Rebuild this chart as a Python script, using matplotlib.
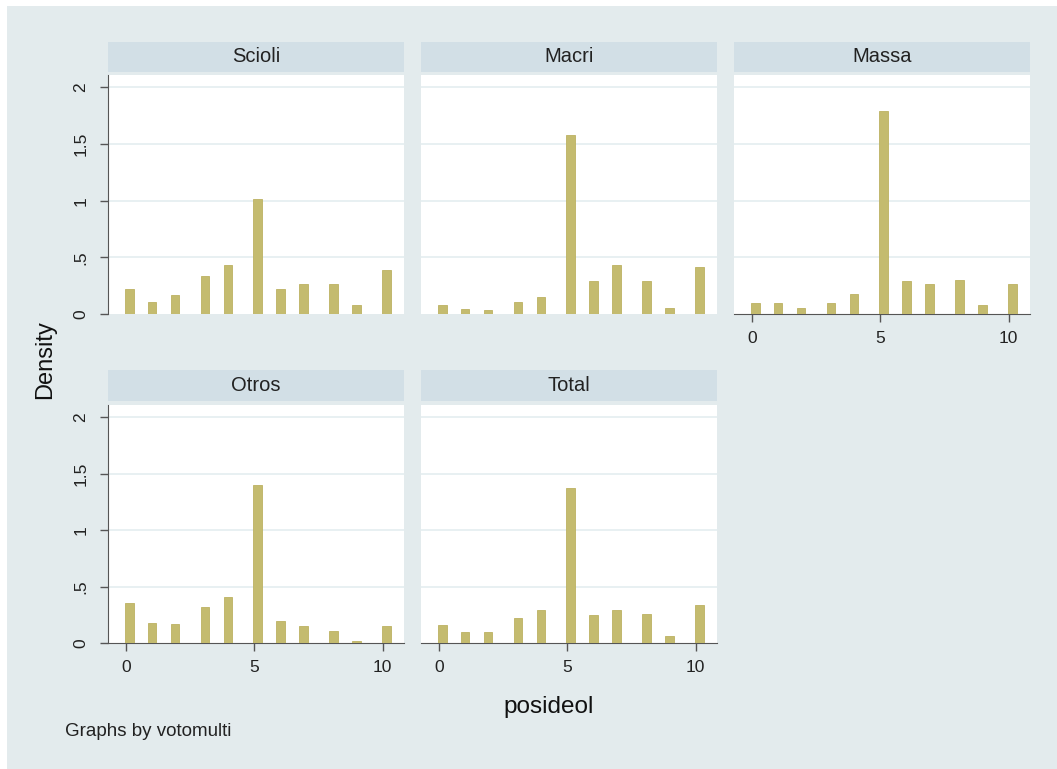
"""
Stata-style histogram panels of posideol by votomulti, redrawn in matplotlib
"""
import matplotlib.pyplot as plt
from matplotlib.patches import Rectangle

plt.rcParams["font.family"] = ["Liberation Sans", "DejaVu Sans"]

# Bin centres of the histogram bars (posideol)
bin_centres = [0.15, 1.02, 1.92, 3.08, 3.98, 5.14, 6.01, 6.92, 8.08, 8.98, 10.16]

# Density per panel
scioli = [0.218, 0.106, 0.168, 0.338, 0.435, 1.018, 0.218, 0.265, 0.262, 0.079, 0.391]
macri = [0.076, 0.047, 0.032, 0.103, 0.147, 1.582, 0.288, 0.429, 0.288, 0.056, 0.412]
massa = [0.097, 0.097, 0.053, 0.097, 0.174, 1.791, 0.288, 0.262, 0.297, 0.076, 0.262]
otros = [0.353, 0.179, 0.171, 0.315, 0.406, 1.400, 0.194, 0.147, 0.103, 0.020, 0.147]
total = [0.159, 0.094, 0.100, 0.221, 0.291, 1.376, 0.244, 0.291, 0.256, 0.059, 0.341]

panel_names = ["Scioli", "Macri", "Massa", "Otros", "Total"]
panel_values = [scioli, macri, massa, otros, total]

y_ticks = [0, 0.5, 1, 1.5, 2]
y_tick_labels = ["0", ".5", "1", "1.5", "2"]
x_ticks = [0, 5, 10]

BG = "#e3ebed"
STRIP = "#d2dfe6"
BAR = "#c4bb6f"
GRID = "#e8f0f2"
AXIS = "#555555"

W, H = 1057, 769
fig = plt.figure(figsize=(W / 100, H / 100), dpi=100)
fig.patch.set_facecolor("white")
fig.add_artist(Rectangle((7 / W, 0), 1, (H - 6) / H, transform=fig.transFigure,
                         facecolor=BG, edgecolor="none", zorder=-10))


def px_axes(left, top, right, bottom):
    """Adds an axes given in pixel coordinates (origin top-left)"""
    return fig.add_axes([left / W, 1 - bottom / H, (right - left) / W, (bottom - top) / H])


columns = [(108, 404), (421, 717), (734, 1030)]
rows = [(42, 72, 75, 314), (370, 401, 405, 643)]

for i, (name, values) in enumerate(zip(panel_names, panel_values)):
    r, c = divmod(i, 3)
    left, right = columns[c]
    s_top, s_bot, p_top, p_bot = rows[r]
    # Strip with the panel title
    strip = px_axes(left, s_top, right, s_bot)
    strip.set_facecolor(STRIP)
    strip.set_xticks([])
    strip.set_yticks([])
    for sp in strip.spines.values():
        sp.set_visible(False)
    strip.text(0.5, 0.5, name, ha="center", va="center", fontsize=14.5,
               color="#222222", transform=strip.transAxes)
    # Histogram panel
    ax = px_axes(left, p_top, right, p_bot)
    ax.set_facecolor("white")
    ax.bar(bin_centres, values, width=0.34, color=BAR, edgecolor="#bcb262",
           linewidth=0.6, zorder=3)
    ax.set_xlim(-0.69, 10.83)
    ax.set_ylim(0, 2.11)
    for g in y_ticks[1:]:
        ax.axhline(g, color=GRID, linewidth=1.4, zorder=1)
    for sp in ax.spines.values():
        sp.set_visible(False)
    show_y = c == 0
    show_x = r == 1 or c == 2
    if show_y:
        ax.spines["left"].set_visible(True)
        ax.spines["left"].set_color(AXIS)
        ax.set_yticks(y_ticks)
        ax.set_yticklabels(y_tick_labels, rotation=90, va="center")
        ax.tick_params(axis="y", length=6, width=1, color=AXIS, pad=8,
                       labelsize=12.5, labelcolor="#222222")
    else:
        ax.set_yticks([])
    if show_x:
        ax.spines["bottom"].set_visible(True)
        ax.spines["bottom"].set_color(AXIS)
        ax.set_xticks(x_ticks)
        ax.tick_params(axis="x", length=6, width=1, color=AXIS, pad=6,
                       labelsize=12.5, labelcolor="#222222")
    else:
        ax.set_xticks([])

fig.text(45 / W, 1 - 360 / H, "Density", rotation=90, ha="center", va="center",
         fontsize=17, color="#111111")
fig.text(549 / W, 1 - 707 / H, "posideol", ha="center", va="center",
         fontsize=17.5, color="#111111")
fig.text(65 / W, 1 - 732 / H, "Graphs by votomulti", ha="left", va="center",
         fontsize=13.5, color="#222222")

fig.savefig("out.png", dpi=100)
plt.close(fig)
